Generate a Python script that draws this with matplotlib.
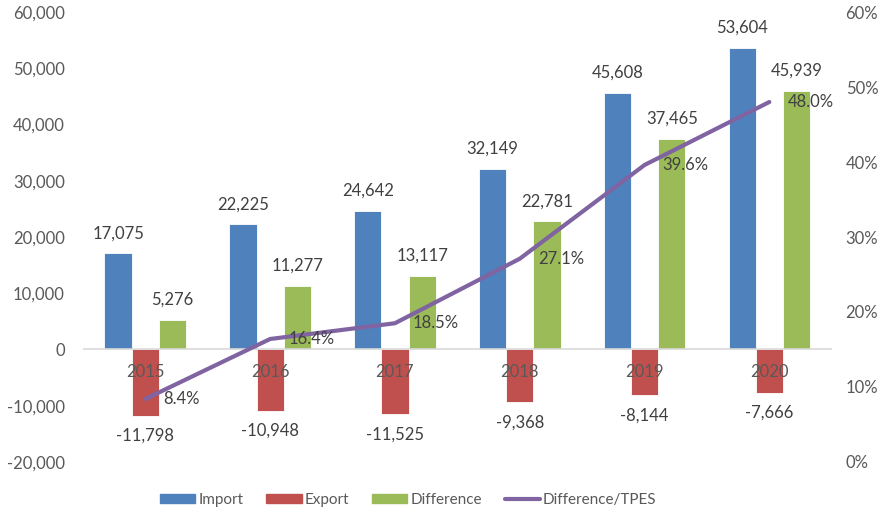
import numpy as np
import matplotlib
matplotlib.use('Agg')
import matplotlib.pyplot as plt
from matplotlib.patches import Patch
from matplotlib.lines import Line2D

years = ['2015', '2016', '2017', '2018', '2019', '2020']
imports = [17075, 22225, 24642, 32149, 45608, 53604]
exports = [-11798, -10948, -11525, -9368, -8144, -7666]
difference = [5276, 11277, 13117, 22781, 37465, 45939]
diff_tpes = [8.4, 16.4, 18.5, 27.1, 39.6, 48.0]

blue = '#4F81BD'
red = '#C0504D'
green = '#9BBB59'
purple = '#8064A2'
tick_color = '#595959'
label_color = '#404040'

plt.rcParams['font.family'] = ['Lato', 'DejaVu Sans']
plt.rcParams['font.size'] = 12

fig = plt.figure(figsize=(8.82, 5.11), dpi=100)
ax = fig.add_axes([0.094, 0.0959, 0.849, 0.8806])
ax2 = ax.twinx()

x = np.arange(len(years))
w = 0.218

bars_imp = ax.bar(x - w, imports, w, color=blue, edgecolor='white', linewidth=0.6)
bars_exp = ax.bar(x, exports, w, color=red, edgecolor='white', linewidth=0.6)
bars_dif = ax.bar(x + w, difference, w, color=green, edgecolor='white', linewidth=0.6)

ax.set_ylim(-20000, 60000)
ax.set_xlim(-0.5, len(years) - 0.5)
ax.set_yticks(np.arange(-20000, 60001, 10000))
ax.yaxis.set_major_formatter(matplotlib.ticker.FuncFormatter(lambda v, p: '{:,.0f}'.format(v)))
ax.axhline(0, color='#D9D9D9', linewidth=1.2, zorder=1)
ax.set_xticks([])

for bars in (bars_imp, bars_dif):
    for b in bars:
        h = b.get_height()
        ax.annotate('{:,}'.format(int(h)), (b.get_x() + b.get_width() / 2, h),
                    xytext=(0, 14.4), textcoords='offset points',
                    ha='center', va='center', color=label_color, fontsize=12)
for b in bars_exp:
    h = b.get_height()
    ax.annotate('{:,}'.format(int(h)), (b.get_x() + b.get_width() / 2, h),
                xytext=(0, -14.4), textcoords='offset points',
                ha='center', va='center', color=label_color, fontsize=12)

# category labels sit just under the zero line
for i, yr in enumerate(years):
    ax.annotate(yr, (i, 0), xytext=(0, -16.5), textcoords='offset points',
                ha='center', va='center', color=tick_color, fontsize=12)

ax2.plot(x, diff_tpes, color=purple, linewidth=3, solid_capstyle='round', zorder=5)
ax2.set_ylim(0, 60)
ax2.set_yticks(np.arange(0, 61, 10))
ax2.set_yticklabels(['{}%'.format(v) for v in range(0, 61, 10)])
for i, v in enumerate(diff_tpes):
    ax2.annotate('{:.1f}%'.format(v), (i, v), xytext=(13, 0), textcoords='offset points',
                 ha='left', va='center', color=label_color, fontsize=12, zorder=6)

for a in (ax, ax2):
    for s in a.spines.values():
        s.set_visible(False)
    a.tick_params(axis='y', length=0, colors=tick_color, labelsize=12)
ax.tick_params(axis='y', pad=13)
ax2.tick_params(axis='y', pad=10)

handles = [Patch(color=blue), Patch(color=red), Patch(color=green),
           Line2D([0], [0], color=purple, linewidth=3, solid_capstyle='round')]
fig.legend(handles, ['Import', 'Export', 'Difference', 'Difference/TPES'],
           loc='center', bbox_to_anchor=(0.463, 0.021), ncol=4, frameon=False,
           handlelength=2.3, handleheight=0.55, handletextpad=0.2,
           columnspacing=1.5, labelcolor=tick_color, fontsize=11)

fig.savefig('out.png', dpi=100)
